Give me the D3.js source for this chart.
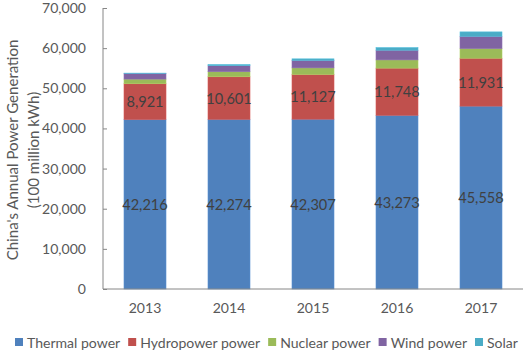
<!DOCTYPE html>
<html><head><meta charset="utf-8">
<script src="https://cdn.jsdelivr.net/npm/d3@7"></script>
<style>body{margin:0;background:#fff}svg{display:block}text{font-family:Lato,sans-serif}</style>
</head><body>
<svg id="c" width="529" height="351"></svg>
<script>
const years = ["2013","2014","2015","2016","2017"];
const seriesNames = ["Thermal power","Hydropower power","Nuclear power","Wind power","Solar"];
const thermal = [42216,42274,42307,43273,45558];
const hydro = [8921,10601,11127,11748,11931];
const nuclear = [1150,1250,1650,2050,2400];
const wind = [1400,1500,1860,2420,3060];
const solar = [90,300,390,650,1100];
const yTicks = [0,10000,20000,30000,40000,50000,60000,70000];
const colors = ["#4F81BD","#C0504D","#9BBB59","#8064A2","#4BACC6"];

(function(){
const FONT = "Lato";
const svg = d3.select("#c");
const pL = 103, pR = 523, pT = 8, pB = 289;

const probe = svg.append("text").attr("font-size",13).attr("font-family",FONT).text("Thermal power");
const w13 = probe.node().getComputedTextLength();
probe.remove();
const fs = Math.max(11, Math.min(14, 13 * 90 / w13));

const x = d3.scaleBand().domain(years).range([pL,pR]).paddingInner(0.5).paddingOuter(0.25);
const y = d3.scaleLinear().domain([0,70000]).range([pB,pT]);

const rows = years.map((yr,i)=>({year:yr, s0:thermal[i], s1:hydro[i], s2:nuclear[i], s3:wind[i], s4:solar[i]}));
const stack = d3.stack().keys(["s0","s1","s2","s3","s4"])(rows);

const g = svg.append("g");
stack.forEach((layer,k)=>{
  g.selectAll(null).data(layer).join("rect")
    .attr("x", d=>x(d.data.year))
    .attr("width", x.bandwidth())
    .attr("y", d=>y(d[1]))
    .attr("height", d=>y(d[0])-y(d[1]))
    .attr("fill", colors[k])
    .attr("stroke", d3.color(colors[k]).brighter(0.3))
    .attr("stroke-width", 0.6);
});

[0,1].forEach(k=>{
  g.selectAll(null).data(stack[k]).join("text")
    .attr("x", d=>x(d.data.year)+x.bandwidth()/2)
    .attr("y", d=>(y(d[0])+y(d[1]))/2)
    .attr("text-anchor","middle").attr("dominant-baseline","central")
    .attr("font-size",fs+1).attr("font-family",FONT).attr("fill","#404040")
    .text(d=>d3.format(",")(d[1]-d[0]));
});

const ya = svg.append("g").attr("transform",`translate(${pL},0)`)
  .call(d3.axisLeft(y).tickValues(yTicks).tickFormat(d3.format(",")).tickSize(-4).tickPadding(17));
ya.select(".domain").remove();
ya.selectAll(".tick line").attr("stroke","#868686");
ya.selectAll(".tick text").attr("font-size",fs+0.5).attr("fill","#595959").attr("font-family",FONT);
svg.append("line").attr("x1",pL).attr("x2",pL).attr("y1",pT).attr("y2",pB).attr("stroke","#868686");

const xa = svg.append("g").attr("transform",`translate(0,${pB})`)
  .call(d3.axisBottom(x).tickSize(0).tickPadding(14));
xa.select(".domain").attr("stroke","#868686").attr("d",`M${pL},0H${pR}`);
xa.selectAll(".tick text").attr("font-size",fs+0.5).attr("fill","#595959").attr("font-family",FONT);

const t = svg.append("text").attr("transform",`translate(13,150) rotate(-90)`)
  .attr("text-anchor","middle").attr("font-size",fs+1.5).attr("font-family",FONT).attr("fill","#595959");
t.append("tspan").attr("x",0).attr("dy","0.35em").text("China's Annual Power Generation");
t.append("tspan").attr("x",0).attr("dy","1.35em").text("(100 million kWh)");

const lg = svg.append("g");
let cx = 15;
seriesNames.forEach((n,i)=>{
  lg.append("rect").attr("x",cx).attr("y",338).attr("width",8).attr("height",8).attr("fill",colors[i]);
  const tx = lg.append("text").attr("x",cx+12).attr("y",342).attr("dominant-baseline","central")
    .attr("font-size",fs+0.5).attr("font-family",FONT).attr("fill","#595959").text(n);
  cx += 12 + tx.node().getComputedTextLength() + 8;
});
})();
</script>
</body></html>
